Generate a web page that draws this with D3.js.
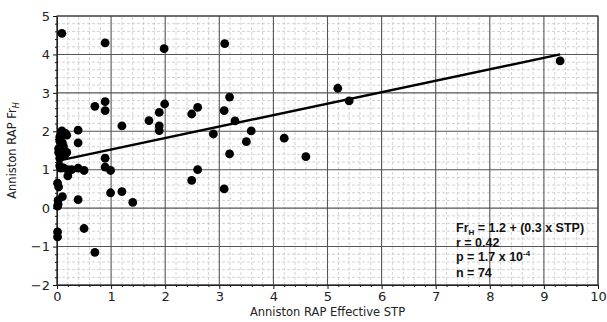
<!DOCTYPE html>
<html>
<head>
<meta charset="utf-8">
<script src="https://cdn.jsdelivr.net/npm/d3@7"></script>
<style>
  body { margin: 0; background: #fff; }
  text { font-family: "DejaVu Sans", sans-serif; }
</style>
</head>
<body>
<svg id="chart" width="607" height="322"></svg>
<script>
// effective STP (x) and Fr_H (y)
const stpValues = [
  0.09, 0.89, 1.98, 3.10, 5.19, 5.40, 9.30, 4.60, 4.20, 3.19,
  3.09, 3.29, 3.59, 3.50, 3.19, 3.09, 2.89, 2.60, 2.49, 2.60,
  2.49, 1.99, 1.89, 1.89, 1.89, 1.70, 1.20, 1.20, 1.40, 0.70,
  0.89, 0.89, 0.89, 0.89, 0.99, 0.99, 0.70, 0.50, 0.50, 0.39,
  0.39, 0.39, 0.39, 0.27, 0.20, 0.18, 0.18, 0.10, 0.09, 0.07,
  0.07, 0.07, 0.03, 0.07, 0.01, 0.02, 0.01, 0.01, 0.01, 0.05,
  0.10, 0.15, 0.05, 0.12, 0.05, 0.02, 0.10, 0.15, 0.03, 0.20,
  0.08, 0.03, 0.12, 0.05
];
const frhValues = [
  4.55, 4.30, 4.15, 4.28, 3.12, 2.79, 3.83, 1.34, 1.82, 2.89,
  2.54, 2.27, 2.01, 1.73, 1.41, 0.50, 1.93, 2.62, 2.45, 1.00,
  0.72, 2.71, 2.49, 2.14, 2.02, 2.28, 2.14, 0.43, 0.15, 2.65,
  2.77, 2.54, 1.30, 1.07, 0.98, 0.40, -1.15, -0.53, 0.98, 1.04,
  0.22, 2.03, 1.70, 1.00, 0.84, 1.90, 1.45, 0.30, 2.01, 1.90,
  1.60, 1.45, 1.45, 1.04, 0.65, 0.20, 0.05, -0.62, -0.75, 1.75,
  1.50, 1.95, 1.30, 1.05, 1.85, 0.10, 1.70, 1.40, 1.55, 1.00,
  1.95, 0.55, 1.60, 1.10
];
// regression line end points
const fitLine = [[0.01, 1.23], [9.30, 4.00]];

const xTicks = [0, 1, 2, 3, 4, 5, 6, 7, 8, 9, 10];
const yTicks = [-2, -1, 0, 1, 2, 3, 4, 5];
const statLines = ["r = 0.42", "n = 74"];

const margin = { top: 16, right: 9, bottom: 37, left: 57 };
const width = 607, height = 322;

const svg = d3.select('#chart');

const x = d3.scaleLinear().domain([0, 10]).range([margin.left, width - margin.right]);
const y = d3.scaleLinear().domain([-2, 5]).range([height - margin.bottom, margin.top]);

const minorX = d3.range(0, 10.001, 0.2).filter(v => Math.abs(v - Math.round(v)) > 1e-6);
const minorY = d3.range(-2, 5.001, 0.2).filter(v => Math.abs(v - Math.round(v)) > 1e-6);

const grid = svg.append('g');
// minor grid, dashed light gray
grid.selectAll('.mx').data(minorX).enter().append('line')
  .attr('x1', d => x(d)).attr('x2', d => x(d))
  .attr('y1', y(-2)).attr('y2', y(5))
  .attr('stroke', '#c8c8c8').attr('stroke-width', 0.8).attr('stroke-dasharray', '3,2');
grid.selectAll('.my').data(minorY).enter().append('line')
  .attr('y1', d => y(d)).attr('y2', d => y(d))
  .attr('x1', x(0)).attr('x2', x(10))
  .attr('stroke', '#c8c8c8').attr('stroke-width', 0.8).attr('stroke-dasharray', '3,2');
// major grid
grid.selectAll('.Mx').data(xTicks).enter().append('line')
  .attr('x1', d => x(d)).attr('x2', d => x(d))
  .attr('y1', y(-2)).attr('y2', y(5))
  .attr('stroke', '#555').attr('stroke-width', 1.1);
grid.selectAll('.My').data(yTicks).enter().append('line')
  .attr('y1', d => y(d)).attr('y2', d => y(d))
  .attr('x1', x(0)).attr('x2', x(10))
  .attr('stroke', '#555').attr('stroke-width', 1.1);

// axes
const xAxis = svg.append('g')
  .attr('transform', `translate(0, ${ y(-2) })`)
  .call(d3.axisBottom(x).tickValues(xTicks).tickSize(4).tickPadding(3).tickFormat(d3.format('d')));
svg.append('g')
  .attr('transform', `translate(0, ${ y(-2) })`)
  .call(d3.axisBottom(x).tickValues(minorX).tickSize(2).tickFormat(''))
  .select('.domain').remove();
const yAxis = svg.append('g')
  .attr('transform', `translate(${ x(0) }, 0)`)
  .call(d3.axisLeft(y).tickValues(yTicks).tickSize(4).tickPadding(3).tickFormat(d => d < 0 ? '\u2212' + Math.abs(d) : d));
svg.append('g')
  .attr('transform', `translate(${ x(0) }, 0)`)
  .call(d3.axisLeft(y).tickValues(minorY).tickSize(2).tickFormat(''))
  .select('.domain').remove();

svg.selectAll('.tick text').attr('font-size', 13).attr('fill', '#222').style('font-family', '"DejaVu Sans", sans-serif');
svg.selectAll('.domain').attr('stroke', '#111').attr('stroke-width', 1);
svg.selectAll('.tick line').attr('stroke', '#111');

// top and right frame
svg.append('rect')
  .attr('x', x(0)).attr('y', y(5))
  .attr('width', x(10) - x(0)).attr('height', y(-2) - y(5))
  .attr('fill', 'none').attr('stroke', '#333').attr('stroke-width', 1);

// regression line
svg.append('path')
  .datum(fitLine)
  .attr('d', d3.line().x(d => x(d[0])).y(d => y(d[1])))
  .attr('stroke', '#000').attr('stroke-width', 2.4).attr('fill', 'none');

// points
svg.append('g').selectAll('circle')
  .data(d3.zip(stpValues, frhValues))
  .enter().append('circle')
  .attr('cx', d => x(d[0]))
  .attr('cy', d => y(d[1]))
  .attr('r', 4.4)
  .attr('fill', '#000');

// axis labels
svg.append('text')
  .attr('x', (x(0) + x(10)) / 2).attr('y', 316)
  .attr('text-anchor', 'middle').attr('font-size', 11.5).attr('fill', '#222')
  .text('Anniston RAP Effective STP');

const yl = svg.append('text')
  .attr('transform', `translate(16, ${ (y(-2) + y(5)) / 2 }) rotate(-90)`)
  .attr('text-anchor', 'middle').attr('font-size', 11.5).attr('fill', '#222');
yl.append('tspan').text('Anniston RAP Fr');
yl.append('tspan').attr('font-size', 8).attr('font-style', 'italic').attr('dy', 3).text('H');

// statistics box
const stats = svg.append('g')
  .attr('font-family', '"Liberation Sans", Arial, sans-serif')
  .attr('font-weight', 'bold').attr('font-size', 12.5).attr('fill', '#111');
const t1 = stats.append('text').attr('x', 456).attr('y', 232).style('font-family', '"Liberation Sans", Arial, sans-serif');
t1.append('tspan').text('Fr');
t1.append('tspan').attr('font-size', 8).attr('dy', 3).text('H');
t1.append('tspan').attr('dy', -3).text(' = 1.2 + (0.3 x STP)');
stats.append('text').attr('x', 456).attr('y', 247).style('font-family', '"Liberation Sans", Arial, sans-serif').text(statLines[0]);
const t3 = stats.append('text').attr('x', 456).attr('y', 261).style('font-family', '"Liberation Sans", Arial, sans-serif');
t3.append('tspan').text('p = 1.7 x 10');
t3.append('tspan').attr('font-size', 8).attr('dy', -5).text('-4');
stats.append('text').attr('x', 456).attr('y', 277).style('font-family', '"Liberation Sans", Arial, sans-serif').text(statLines[1]);
</script>
</body>
</html>
